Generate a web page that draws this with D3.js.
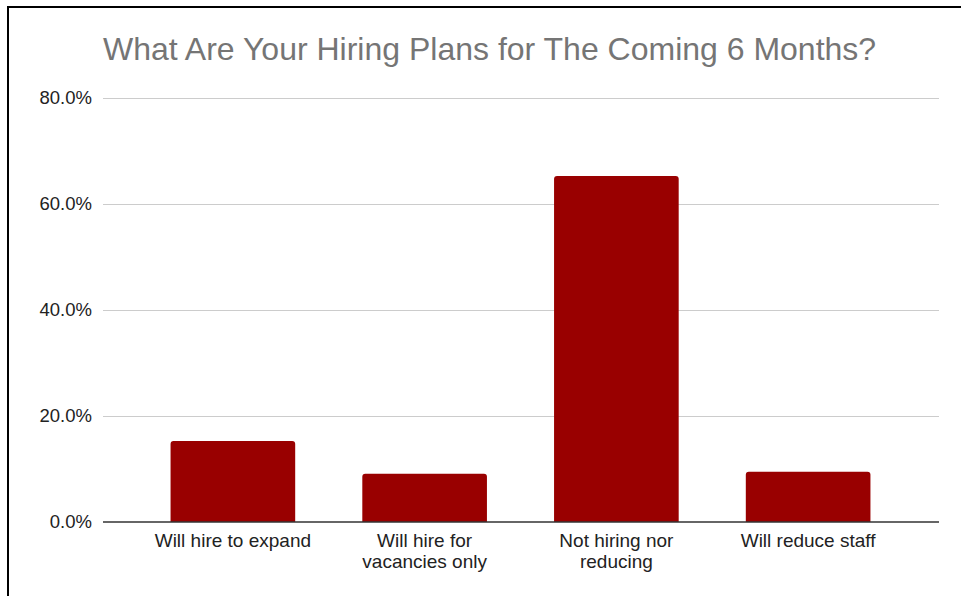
<!DOCTYPE html>
<html>
<head>
<meta charset="utf-8">
<script src="https://cdn.jsdelivr.net/npm/d3@7/dist/d3.min.js"></script>
<style>
  html, body { margin: 0; padding: 0; background: #fff; }
  svg { display: block; }
</style>
</head>
<body>
<svg id="chart" width="961" height="596"></svg>
<script>
// Survey results: hiring plans for the next six months
const categories = [
  ["Will hire to expand"],
  ["Will hire for", "vacancies only"],
  ["Not hiring nor", "reducing"],
  ["Will reduce staff"]
];
const values = [0.153, 0.091, 0.653, 0.095];
const yTicks = [0, 0.2, 0.4, 0.6, 0.8];
const titleText = "What Are Your Hiring Plans for The Coming 6 Months?";

const svg = d3.select("#chart");
const font = "'Liberation Sans', Arial, sans-serif";

// Frame lines along the top and left edges
svg.append("line").attr("x1", 7).attr("x2", 961).attr("y1", 7).attr("y2", 7)
  .attr("stroke", "#000").attr("stroke-width", 2);
svg.append("line").attr("x1", 8).attr("x2", 8).attr("y1", 6).attr("y2", 596)
  .attr("stroke", "#000").attr("stroke-width", 2);

const plot = { left: 103, right: 939, top: 98, bottom: 522 };

const y = d3.scaleLinear().domain([0, 0.8]).range([plot.bottom, plot.top]);
const keys = categories.map((c, i) => i);
const x = d3.scaleBand().domain(keys).range([137, 904])
  .paddingInner(0.35).paddingOuter(0.175);

// Title
svg.append("text")
  .attr("x", 103).attr("y", 60)
  .attr("font-family", font).attr("font-size", 32)
  .attr("fill", "#757575")
  .text(titleText);

// Horizontal gridlines
svg.append("g").selectAll("line")
  .data(yTicks.filter(t => t > 0))
  .join("line")
  .attr("x1", plot.left).attr("x2", plot.right)
  .attr("y1", d => Math.round(y(d)) + 0.5).attr("y2", d => Math.round(y(d)) + 0.5)
  .attr("stroke", "#cccccc").attr("stroke-width", 1);

// Y axis labels
const yAxis = d3.axisLeft(y).tickValues(yTicks)
  .tickFormat(d3.format(".1%")).tickSize(0).tickPadding(11);
const gy = svg.append("g").attr("transform", `translate(${plot.left},0)`).call(yAxis);
gy.select(".domain").remove();
gy.selectAll("text")
  .attr("font-family", font).attr("font-size", 18.5).attr("fill", "#222");

// Bars with slightly rounded top corners
function barPath(x0, w, yTop, yBase, r) {
  r = Math.min(r, w / 2, (yBase - yTop));
  return `M${x0},${yBase}V${yTop + r}Q${x0},${yTop} ${x0 + r},${yTop}` +
    `H${x0 + w - r}Q${x0 + w},${yTop} ${x0 + w},${yTop + r}V${yBase}Z`;
}
svg.append("g").selectAll("path")
  .data(values)
  .join("path")
  .attr("d", (d, i) => barPath(x(i), x.bandwidth(), y(d), y(0), 3))
  .attr("fill", "#990000");

// Baseline
svg.append("line")
  .attr("x1", plot.left).attr("x2", plot.right)
  .attr("y1", y(0)).attr("y2", y(0))
  .attr("stroke", "#333").attr("stroke-width", 1.5);

// Category labels (wrapped)
const labels = svg.append("g").selectAll("text")
  .data(categories)
  .join("text")
  .attr("text-anchor", "middle")
  .attr("font-family", font).attr("font-size", 19).attr("fill", "#222")
  .attr("x", (d, i) => x(i) + x.bandwidth() / 2)
  .attr("y", 547);
labels.selectAll("tspan")
  .data(d => d)
  .join("tspan")
  .attr("x", function () { return d3.select(this.parentNode).attr("x"); })
  .attr("dy", (d, i) => i === 0 ? 0 : 20.5)
  .text(d => d);
</script>
</body>
</html>
